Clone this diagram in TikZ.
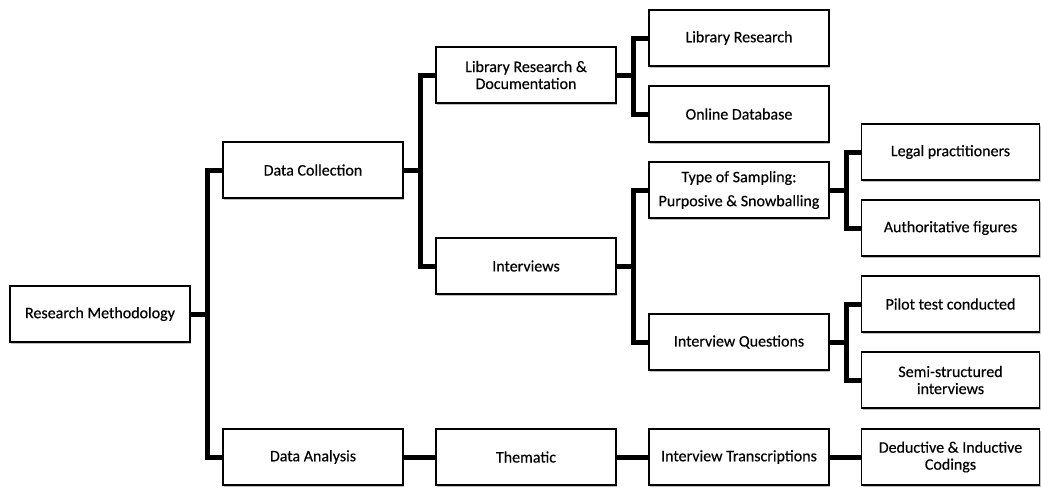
\documentclass[tikz,border=0pt]{standalone}
\usepackage{fontspec}
\setmainfont{Carlito}[FakeBold=0.35]
\usetikzlibrary{shadows}

\begin{document}
\begin{tikzpicture}[x=1pt,y=-1pt,
  box/.style={draw=black, line width=1.1pt, fill=white, minimum width=180pt,
    minimum height=56pt, inner sep=2pt, align=center,
    font=\fontsize{16}{17}\selectfont,
    drop shadow={shadow xshift=1.2pt, shadow yshift=-1.8pt, opacity=0.25, fill=black}},
  rbox/.style={box, minimum width=178pt},
  conn/.style={line width=5pt, line join=miter}]
  \useasboundingbox (0,0) rectangle (1041,496);
  \fill[white] (0,0) rectangle (1041,496);

  % level 0
  \node[box] (rm) at (100,314) {Research Methodology};
  % level 1
  \node[box] (dc) at (313,170) {Data Collection};
  \node[box] (da) at (313,457) {Data Analysis};
  % level 2
  \node[box] (lrd) at (526,75) {Library Research \&\\Documentation};
  \node[box] (iv) at (526,266) {Interviews};
  \node[box] (th) at (526,457) {Thematic};
  % level 3
  \node[box] (lr) at (739,38) {Library Research};
  \node[box] (od) at (739,114) {Online Database};
  \node[box] (ts) at (739,190) {Type of Sampling:\\[7pt]Purposive \& Snowballing};
  \node[box] (iq) at (739,342) {Interview Questions};
  \node[box] (it) at (739,457) {Interview Transcriptions};
  % level 4
  \node[rbox] (lp) at (950.5,152) {Legal practitioners};
  \node[rbox] (af) at (950.5,228) {Authoritative figures};
  \node[rbox] (pt) at (950.5,304) {Pilot test conducted};
  \node[rbox] (ss) at (950.5,380) {Semi-structured\\interviews};
  \node[rbox] (dic) at (950.5,457) {Deductive \& Inductive\\Codings};

  % tree connectors (elbow joints through a vertical bus)
  \foreach \p/\c in {rm/dc, rm/da, dc/lrd, dc/iv, lrd/lr, lrd/od, iv/ts, iv/iq,
                     ts/lp, ts/af, iq/pt, iq/ss}
    \draw[conn] (\p.east) -- ++(16.5,0) |- (\c.west);
  \foreach \p/\c in {da/th, th/it, it/dic}
    \draw[conn] (\p.east) -- (\c.west);
\end{tikzpicture}
\end{document}
